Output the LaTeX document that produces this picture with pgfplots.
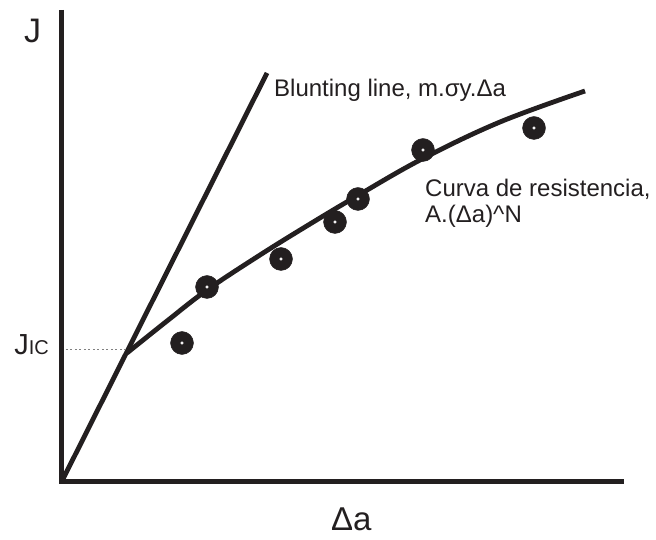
\documentclass[border=0pt]{standalone}
\usepackage{pgfplots}
\pgfplotsset{compat=1.18}
\usepackage{fontspec}
\setmainfont{Liberation Sans}
\definecolor{ink}{RGB}{35,31,32}
\begin{document}
\begin{tikzpicture}
\begin{axis}[
  scale only axis, width=562bp, height=471bp,
  xmin=0, xmax=562, ymin=0, ymax=471,
  axis lines=none, clip=false,
  ticks=none,
]
% bounding box matching 656x540 px
\path (axis cs:-62,-59) rectangle (axis cs:594,481);
% axes
\addplot[ink, line width=5bp, line join=miter, mark=none] coordinates {(-0.5,471) (-0.5,-0.5) (562,-0.5)};
% JIC dotted guide
\addplot[gray, line width=0.8bp, dash pattern=on 2bp off 2.5bp, mark=none] coordinates {(4,132) (63,132)};
% blunting line
\addplot[ink, line width=4.8bp, mark=none] coordinates {(0,0) (205,408)};
% resistance curve
\addplot[ink, line width=4.8bp, smooth, tension=0.6, mark=none] coordinates {
  (65,128) (105,160) (145,191) (198,226) (248,257) (295,285) (360,322) (438,359) (523,390)};
% data points
\addplot[only marks, mark=*, mark size=11.5bp, mark options={fill=ink, draw=ink}] coordinates {
  (120,138) (145,194) (219,222) (273,259) (296,282) (361,331) (472,353)};
\addplot[only marks, mark=*, mark size=1.3bp, mark options={fill=white, draw=white}] coordinates {
  (120,138) (145,194) (219,222) (273,259) (296,282) (361,331) (472,353)};
% labels
\node[anchor=base west, inner sep=0pt, text=ink] at (axis cs:212,384) {\fontsize{24bp}{28bp}\selectfont Blunting line, m.σy.Δa};
\node[anchor=base west, inner sep=0pt, text=ink] at (axis cs:363,284) {\fontsize{24bp}{28bp}\selectfont Curva de resistencia,};
\node[anchor=base west, inner sep=0pt, text=ink] at (axis cs:363,258) {\fontsize{24bp}{28bp}\selectfont A.(Δa)\textasciicircum N};
\node[anchor=base west, inner sep=0pt, text=ink] at (axis cs:-38,438) {\fontsize{34bp}{38bp}\selectfont J};
\node[anchor=base east, inner sep=0pt, text=ink] at (axis cs:-13,126) {\fontsize{29bp}{32bp}\selectfont J\fontsize{20bp}{22bp}\selectfont IC};
\node[anchor=base west, inner sep=0pt, text=ink] at (axis cs:269,-49) {\fontsize{33bp}{38bp}\selectfont Δa};
\end{axis}
\end{tikzpicture}
\end{document}
